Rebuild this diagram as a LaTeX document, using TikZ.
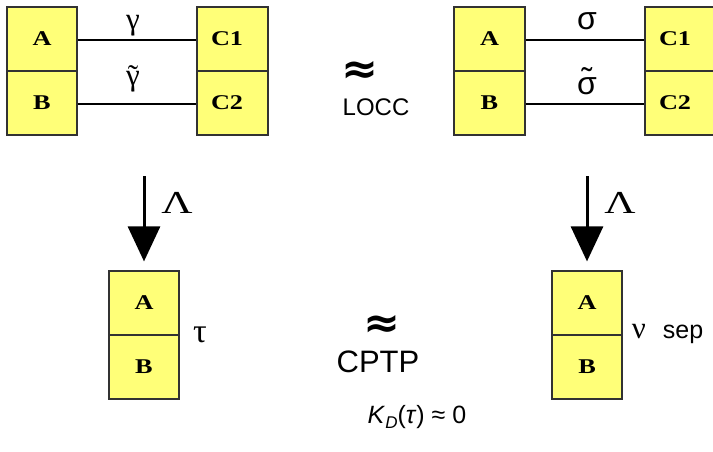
\documentclass[tikz,border=0pt]{standalone}
\usepackage{fontspec}
\usepackage{graphicx}
\setmainfont{Liberation Serif}
\newfontfamily\arialf{Liberation Sans}
\newfontfamily\djv{DejaVu Sans}
\usetikzlibrary{arrows.meta}
\definecolor{boxyellow}{RGB}{255,255,120}
\definecolor{boxedge}{RGB}{50,50,50}
\newcommand\wideglyph[1]{\scalebox{1.25}[1]{#1}}
\newcommand\fs[1]{\fontsize{#1}{#1}\selectfont}
\newcommand\tildeon[2]{\ooalign{#2\cr\hidewidth\raisebox{#1}{\char"02DC}\hidewidth\cr}}
\newcommand\bigapprox{\resizebox{37pt}{22pt}{\djv\bfseries ≈}}
\tikzset{
  cell/.style={draw=boxedge, line width=1.2pt, fill=boxyellow, minimum width=70pt, minimum height=64pt, inner sep=0pt, font=\fs{21}\bfseries},
  ccell/.style={cell, minimum width=71pt, text width=43pt, inner xsep=14pt, align=left},
  wire/.style={line width=2pt, black},
  bigarrow/.style={line width=3pt, -{Triangle[width=32pt,length=35pt]}, shorten >=9pt},
  lbl/.style={inner sep=0pt, anchor=base},
}
\begin{document}
\begin{tikzpicture}[x=1pt,y=-1pt]
\useasboundingbox (0,0) rectangle (713,452);
% top-left group
\node[cell] (A1) at (42,39) {\wideglyph{A}};
\node[cell] (B1) at (42,103) {\wideglyph{B}};
\node[ccell] (C11) at (232.5,39) {\wideglyph{C1}};
\node[ccell] (C21) at (232.5,103) {\wideglyph{C2}};
\draw[wire] ([yshift=-1pt]A1.east) -- ([yshift=-1pt]C11.west);
\draw[wire] ([yshift=-1pt]B1.east) -- ([yshift=-1pt]C21.west);
\node[lbl, font=\fs{31}] (g1) at (133,30) {γ};
\node[lbl, font=\fs{31}] (g2) at (133,86) {\tildeon{-1pt}{γ}};
% top-right group
\node[cell, minimum width=71pt] (A2) at (489.5,39) {\wideglyph{A}};
\node[cell, minimum width=71pt] (B2) at (489.5,103) {\wideglyph{B}};
\node[ccell] (C12) at (680.5,39) {\wideglyph{C1}};
\node[ccell] (C22) at (680.5,103) {\wideglyph{C2}};
\draw[wire] ([yshift=-1pt]A2.east) -- ([yshift=-1pt]C12.west);
\draw[wire] ([yshift=-1pt]B2.east) -- ([yshift=-1pt]C22.west);
\node[lbl, font=\arialf\fs{32}] (s1) at (587,30) {σ};
\node[lbl, font=\arialf\fs{32}] (s2) at (587,95) {\tildeon{4pt}{σ}};
% middle top
\node[inner sep=0pt] (ap1) at (360,72) {\bigapprox};
\node[lbl, font=\arialf\fs{24}] (locc) at (376,116) {LOCC};
% bottom-left
\node[cell] (A3) at (144,303) {\wideglyph{A}};
\node[cell] (B3) at (144,367) {\wideglyph{B}};
\coordinate (arr1) at (144,176);
\draw[bigarrow] (arr1) -- (A3.north);
\node[lbl, font=\fs{32}] (lam1) at (177,213) {\scalebox{1.35}[1]{Λ}};
\node[lbl, font=\fs{34}] (tau) at (200,342) {τ};
% bottom-right
\node[cell] (A4) at (587,303) {\wideglyph{A}};
\node[cell] (B4) at (587,367) {\wideglyph{B}};
\coordinate (arr2) at (587,176);
\draw[bigarrow] (arr2) -- (A4.north);
\node[lbl, font=\fs{32}] (lam2) at (620,213) {\scalebox{1.35}[1]{Λ}};
\node[lbl, font=\fs{31}] (nu) at (639,338) {ν};
\node[lbl, font=\arialf\fs{25}] (sep) at (683,338) {sep};
% middle bottom
\node[inner sep=0pt] (ap2) at (382,326) {\bigapprox};
\node[lbl, font=\arialf\fs{31}] (cptp) at (378,372) {CPTP};
\node[lbl, font=\arialf\fs{25}] (kd) at (417,423) {\textit{K}\raisebox{-0.22em}{\fs{17}\textit{D}}(\textit{τ}) ≈ 0};
\end{tikzpicture}
\end{document}
